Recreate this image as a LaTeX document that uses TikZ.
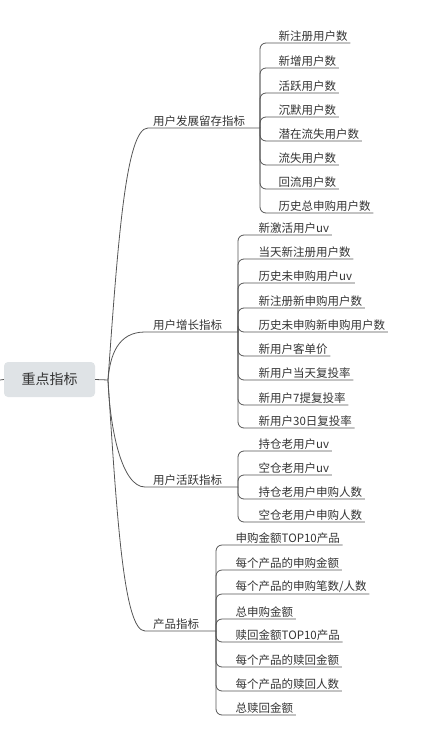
\documentclass[tikz,border=0pt]{standalone}
\usepackage{fontspec}
\setmainfont{Noto Sans CJK SC}
\definecolor{lc}{HTML}{555555}
\definecolor{tc}{HTML}{333333}
\definecolor{rootfill}{HTML}{DFE3E6}
\tikzset{
  rootbox/.style={fill=rootfill, rounded corners=4pt, minimum width=91pt, minimum height=35pt, inner sep=0pt, text=tc, font=\fontsize{14}{16}\selectfont},
  blabel/.style={anchor=south west, inner xsep=2pt, inner ysep=1.5pt, text=tc, font=\fontsize{11.5}{13}\selectfont},
  leaf/.style={anchor=south west, inner xsep=2.5pt, inner ysep=1.5pt, text=tc, font=\fontsize{11.5}{13}\selectfont},
  conn/.style={draw=lc, line width=0.8pt},
  brk/.style={draw=lc, line width=0.8pt, rounded corners=6pt}
}
\begin{document}
\begin{tikzpicture}[x=1pt,y=-1pt]
\useasboundingbox (0,0) rectangle (426,733);
% root
\node[rootbox] (root) at (49.5,379.5) {重点指标};
\coordinate (rs) at (0,380);
\coordinate (hub) at (108,380);
\draw[conn] (rs) -- (root.west);
\draw[conn] (root.east) -- (hub);

% ---------- branch 1
\node[blabel] (n1) at (151,128) {用户发展留存指标};
\coordinate (b1s) at (148,128);
\coordinate (b1) at (260,128);
\draw[conn] (hub) .. controls (118,240) and (126,128) .. (b1s) -- (b1);
\node[leaf] (c11) at (276,43) {新注册用户数};
\node[leaf] (c12) at (276,68) {新增用户数};
\node[leaf] (c13) at (276,93) {活跃用户数};
\node[leaf] (c14) at (276,117) {沉默用户数};
\node[leaf] (c15) at (276,141) {潜在流失用户数};
\node[leaf] (c16) at (276,165) {流失用户数};
\node[leaf] (c17) at (276,189) {回流用户数};
\node[leaf] (c18) at (276,213) {历史总申购用户数};
\foreach \c in {c11,c12,c13,c14,c15,c16,c17,c18}
  \draw[brk] (b1) |- (\c.south east);

% ---------- branch 2
\node[blabel] (n2) at (151,332) {用户增长指标};
\coordinate (b2s) at (145,332);
\coordinate (b2) at (238,332);
\draw[conn] (hub) .. controls (110,355) and (118,332) .. (b2s) -- (b2);
\node[leaf] (c21) at (256,235) {新激活用户uv};
\node[leaf] (c22) at (256,259) {当天新注册用户数};
\node[leaf] (c23) at (256,283) {历史未申购用户uv};
\node[leaf] (c24) at (256,308) {新注册新申购用户数};
\node[leaf] (c25) at (256,332) {历史未申购新申购用户数};
\node[leaf] (c26) at (256,356) {新用户客单价};
\node[leaf] (c27) at (256,380) {新用户当天复投率};
\node[leaf] (c28) at (256,405) {新用户7提复投率};
\node[leaf] (c29) at (256,428) {新用户30日复投率};
\foreach \c in {c21,c22,c23,c24,c25,c26,c27,c28,c29}
  \draw[brk] (b2) |- (\c.south east);

% ---------- branch 3
\node[blabel] (n3) at (151,487) {用户活跃指标};
\coordinate (b3s) at (145,487);
\coordinate (b3) at (238,487);
\draw[conn] (hub) .. controls (110,430) and (122,487) .. (b3s) -- (b3);
\node[leaf] (c31) at (256,451) {持仓老用户uv};
\node[leaf] (c32) at (256,475) {空仓老用户uv};
\node[leaf] (c33) at (256,499) {持仓老用户申购人数};
\node[leaf] (c34) at (256,522) {空仓老用户申购人数};
\foreach \c in {c31,c32,c33,c34}
  \draw[brk] (b3) |- (\c.south east);

% ---------- branch 4
\node[blabel] (n4) at (151,631) {产品指标};
\coordinate (b4s) at (145,631);
\coordinate (b4) at (216,631);
\draw[conn] (hub) .. controls (117,520) and (124,631) .. (b4s) -- (b4);
\node[leaf] (c41) at (233,545) {申购金额TOP10产品};
\node[leaf] (c42) at (233,570) {每个产品的申购金额};
\node[leaf] (c43) at (233,594) {每个产品的申购笔数/人数};
\node[leaf] (c44) at (233,619) {总申购金额};
\node[leaf] (c45) at (233,642) {赎回金额TOP10产品};
\node[leaf] (c46) at (233,667) {每个产品的赎回金额};
\node[leaf] (c47) at (233,691) {每个产品的赎回人数};
\node[leaf] (c48) at (233,715) {总赎回金额};
\foreach \c in {c41,c42,c43,c44,c45,c46,c47,c48}
  \draw[brk] (b4) |- (\c.south east);
\end{tikzpicture}
\end{document}
